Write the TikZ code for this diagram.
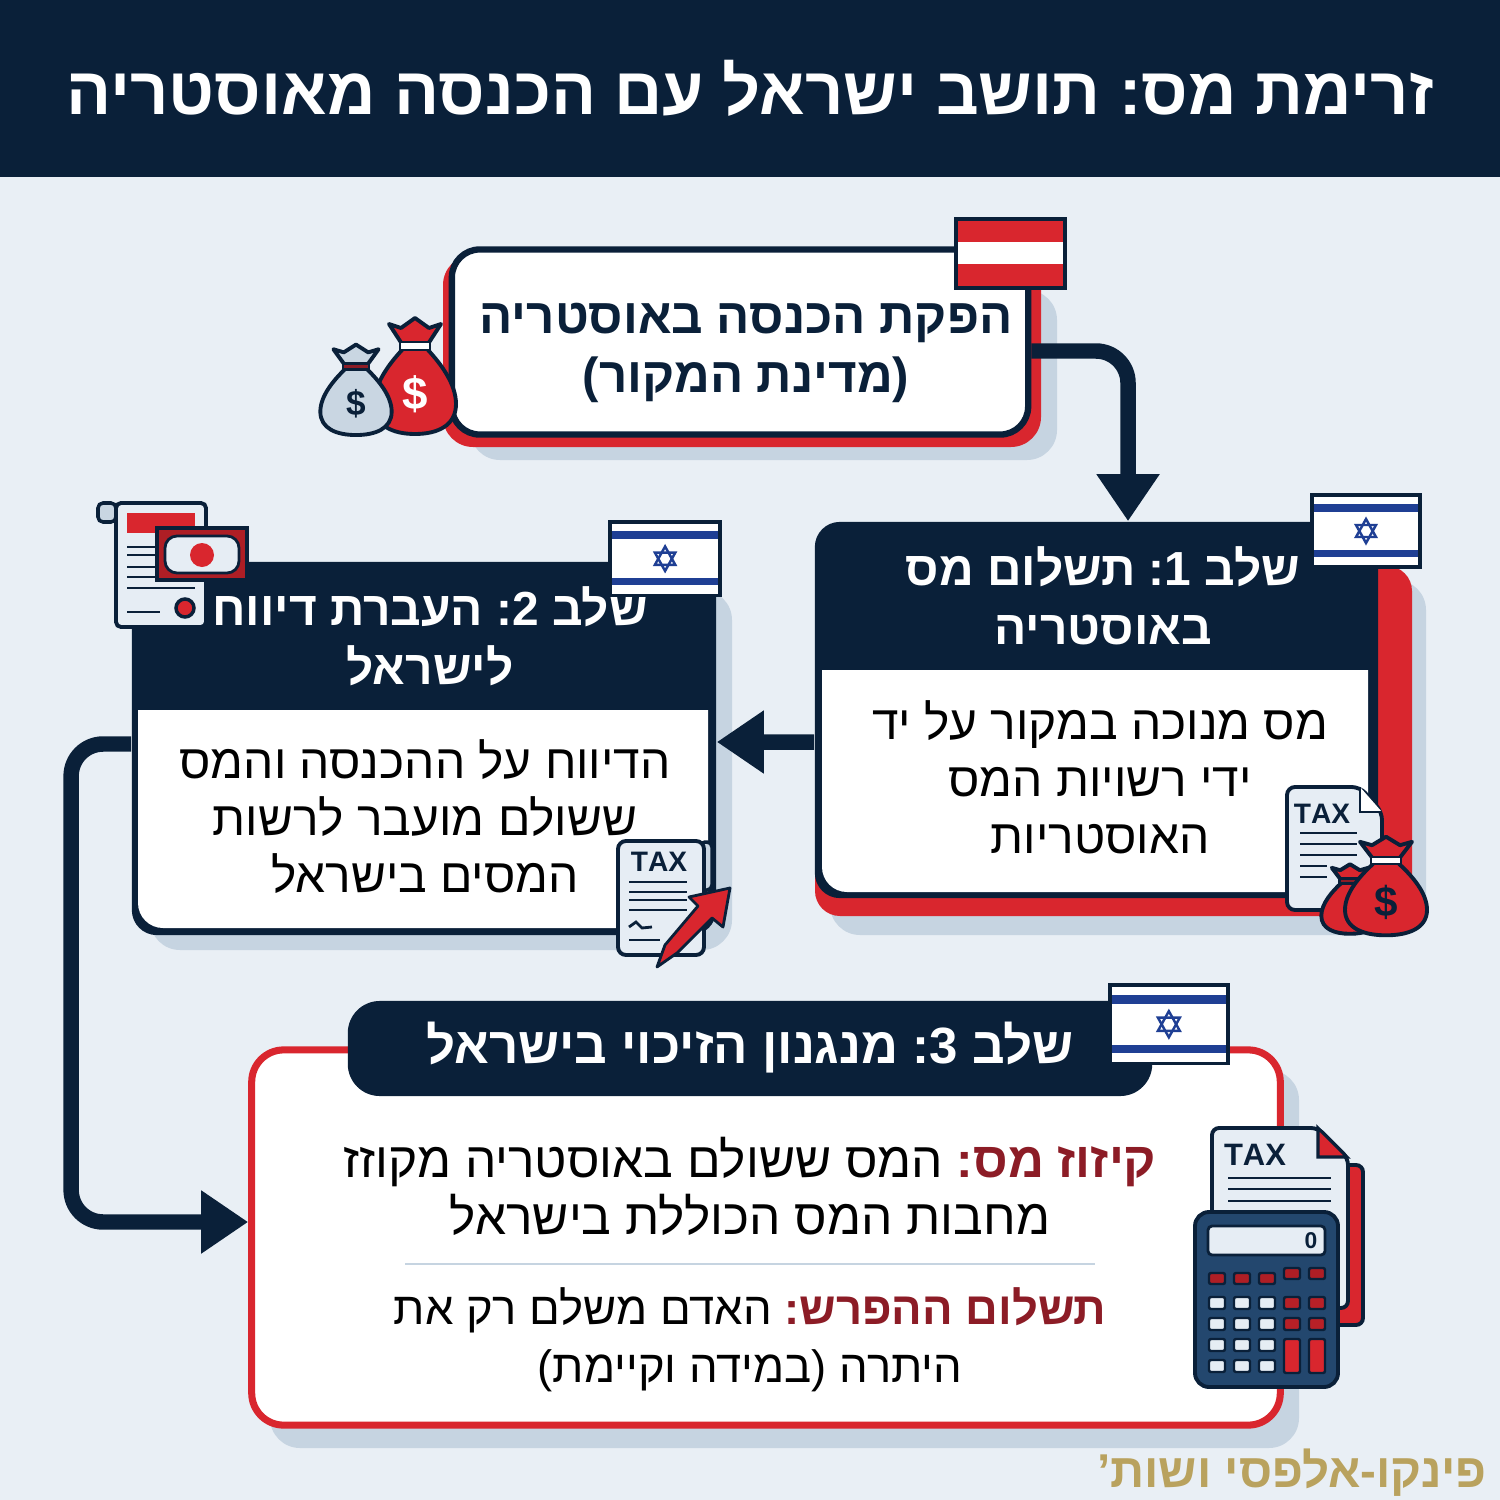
\documentclass[tikz,border=0pt]{standalone}
\usepackage{xcolor}
\usepackage{fontspec}
\usepackage{tikz}
\usetikzlibrary{arrows.meta}
\setmainfont[Script=Hebrew]{Liberation Sans}
\TeXXeTstate=1
\frenchspacing

\definecolor{navy}{HTML}{0A2039}
\definecolor{redbox}{HTML}{D9262E}
\definecolor{darkred}{HTML}{8C1C26}
\definecolor{pagebg}{HTML}{E9EFF5}
\definecolor{shadowc}{HTML}{C6D4E1}
\definecolor{flagblue}{HTML}{1F3F94}
\definecolor{gold}{HTML}{B9A25E}
\definecolor{paper}{HTML}{E6EDF4}
\definecolor{calcblue}{HTML}{23476E}
\definecolor{bagred}{HTML}{D9262E}
\definecolor{baggrey}{HTML}{C9D6E2}

\newcommand{\heb}[1]{\beginR #1\endR}

% flag of Israel, 108 x 72 before scaling
\newcommand{\ilflag}[3]{
	\begin{scope}[shift={(#1,#2)},scale=#3]
		\fill[white] (0,0) rectangle (108,72);
		\fill[flagblue] (2,9) rectangle (106,17);
		\fill[flagblue] (2,55) rectangle (106,62);
		\draw[flagblue,line width=0.7pt] (54,24) -- (64,42) -- (44,42) -- cycle;
		\draw[flagblue,line width=0.7pt] (54,48) -- (64,30) -- (44,30) -- cycle;
		\draw[navy,line width=1.1pt] (0,0) rectangle (108,72);
	\end{scope}}

% money bag, top centre at (#1,#2)
\newcommand{\moneybag}[6]{
	\begin{scope}[shift={(#1,#2)},xscale=#3,yscale=#4]
		\draw[navy,line width=1.1pt,fill=#5,line join=round] (-26,8) -- (-14,12) -- (0,2) -- (14,12) -- (26,8) -- (13,28) -- (13,34)
			.. controls (26,48) and (41,68) .. (41,88) .. controls (41,110) and (22,118) .. (0,118)
			.. controls (-22,118) and (-41,110) .. (-41,88) .. controls (-41,68) and (-26,48) .. (-13,34) -- (-13,28) -- cycle;
		\draw[navy,line width=0.7pt,fill=#6] (-15,26) rectangle (15,34);
	\end{scope}}

\begin{document}
\begin{tikzpicture}[x=0.01cm,y=-0.01cm]
	\tikzset{align=center}
	
	\tikzset{bodytext/.style = {text=black,inner sep=0pt,font=\fontsize{13.6pt}{16.2pt}\selectfont}}
	
	\tikzset{headtext/.style = {text=white,inner sep=0pt,font=\bfseries\fontsize{13.6pt}{16.8pt}\selectfont}}
	
	\tikzset{navybox/.style = {shape=rectangle,fill=navy,rounded corners=0.25cm,inner sep=0pt}}
	
	\tikzset{flow/.style = {draw=navy,line width=4.4pt,rounded corners=0.32cm,-{Triangle[length=0.47cm,width=0.6cm]}}}
	
	\tikzset{docline/.style = {draw=navy,line width=0.8pt}}
	
	\tikzset{taxtext/.style = {text=navy,inner sep=0pt,font=\bfseries\fontsize{8pt}{8pt}\selectfont}}
	
	\tikzset{dollar/.style = {inner sep=0pt,font=\bfseries\fontsize{12pt}{12pt}\selectfont}}
	
	\useasboundingbox (0,0) rectangle (1500,1500);
	\fill[pagebg] (0,0) rectangle (1500,1500);
	\fill[navy] (0,0) rectangle (1500,177);
	
	% shadows and red backs
	\fill[shadowc,rounded corners=0.3cm] (470,290) rectangle (1057,460);
	\fill[redbox,rounded corners=0.3cm] (443,255) rectangle (1041,447);
	\fill[shadowc,rounded corners=0.3cm] (830,580) rectangle (1426,935);
	\fill[redbox,rounded corners=0.25cm] (815,566) rectangle (1412,916);
	\fill[shadowc,rounded corners=0.3cm] (150,590) rectangle (732,950);
	\fill[shadowc,rounded corners=0.3cm] (270,1070) rectangle (1299,1448);
	
	% boxes
	\node[shape=rectangle,draw=navy,fill=white,line width=1.8pt,rounded corners=0.28cm,minimum width=5.76cm,minimum height=1.85cm] (src) at (740,342) {};
	
	\node[navybox,minimum width=5.63cm,minimum height=3.76cm] (step1) at (1096.5,710) {};
	
	\node[navybox,minimum width=5.84cm,minimum height=3.73cm] (step2) at (424,748.5) {};
	
	\node[shape=rectangle,draw=redbox,fill=white,line width=2pt,rounded corners=0.32cm,minimum width=10.28cm,minimum height=3.75cm] (step3) at (766,1237.5) {};
	
	\fill[white] (822,670) -- (1368,670) [rounded corners=0.25cm] -- (1368,892) -- (822,892) [sharp corners] -- cycle;
	\fill[white] (138,710) -- (708,710) [rounded corners=0.25cm] -- (708,928) -- (138,928) [sharp corners] -- cycle;
	
	\node[navybox,rounded corners=0.32cm,minimum width=8.04cm,minimum height=0.95cm] (head3) at (750,1048.5) {};
	
	% texts
	\node[text=white,inner sep=0pt,font=\bfseries\fontsize{19pt}{19pt}\selectfont] (title) at (750,88) {\heb{זרימת מס: תושב ישראל עם הכנסה מאוסטריה}};
	
	\node[text=navy,inner sep=0pt,font=\bfseries\fontsize{14pt}{17pt}\selectfont] (srctext) at (746,353) {\heb{הפקת הכנסה באוסטריה}\\\heb{(מדינת המקור)}};
	
	\node[headtext] (head1text) at (1103,596) {\heb{שלב 1: תשלום מס}\\\heb{באוסטריה}};
	\node[bodytext] (body1text) at (1100,777) {\heb{מס מנוכה במקור על יד}\\\heb{ידי רשויות המס}\\\heb{האוסטריות}};
	
	\node[headtext] (head2text) at (430,636) {\heb{שלב 2: העברת דיווח}\\\heb{לישראל}};
	\node[bodytext] (body2text) at (425,817) {\heb{הדיווח על ההכנסה והמס}\\\heb{ששולם מועבר לרשות}\\\heb{המסים בישראל}};
	
	\node[headtext,font=\bfseries\fontsize{14.5pt}{17pt}\selectfont] (head3text) at (750,1048) {\heb{שלב 3: מנגנון הזיכוי בישראל}};
	\node[bodytext,font=\fontsize{14.1pt}{16.2pt}\selectfont] (offset) at (750,1186) {\heb{המס ששולם באוסטריה מקוזז}\ {\bfseries\color{darkred}\heb{קיזוז מס:}}\\\heb{מחבות המס הכוללת בישראל}};
	\node[bodytext,font=\fontsize{12.9pt}{16.4pt}\selectfont] (diff) at (750,1340) {\heb{האדם משלם רק את}\ {\bfseries\color{darkred}\heb{תשלום ההפרש:}}\\\heb{היתרה (במידה וקיימת)}};
	\draw[shadowc,line width=0.7pt] (405,1264) -- (1095,1264);
	
	\node[text=gold,inner sep=0pt,font=\bfseries\fontsize{13.5pt}{14pt}\selectfont] (firm) at (1292,1473) {\heb{פינקו-אלפסי ושות'}};
	
	% edges
	\draw[flow] ([yshift=-0.09cm]src.east) -| ([xshift=0.315cm]step1.north);
	\draw[flow] ([yshift=-0.32cm]step1.west) -- ([yshift=0.065cm]step2.east);
	\draw[flow] ([yshift=0.045cm]step2.west) -- ++(-60,0) |- ([yshift=0.155cm]step3.west);
	
	% flags
	\draw[navy,line width=1.1pt,fill=redbox] (956,219) rectangle (1065,288);
	\fill[white] (958,242) rectangle (1063,264);
	\ilflag{1312}{495}{1}
	\ilflag{610}{522}{1.02}
	\ilflag{1110}{985}{1.09}
	
	% bags at the top box
	\moneybag{415}{316}{1}{1}{bagred}{white}
	\node[dollar,text=white,font=\bfseries\fontsize{13pt}{13pt}\selectfont] (dollarA) at (415,394) {\$};
	\moneybag{356}{343}{0.87}{0.78}{baggrey}{darkred}
	\node[dollar,text=navy,font=\bfseries\fontsize{10pt}{10pt}\selectfont] (dollarB) at (356,404) {\$};
	
	% tax paper of step 1
	\draw[navy,line width=1.1pt,fill=paper,rounded corners=0.08cm] (1287,787) -- (1360,787) -- (1382,812) -- (1382,910) -- (1287,910) -- cycle;
	\draw[navy,line width=0.8pt,fill=white] (1360,787) -- (1360,812) -- (1382,812);
	\node[taxtext] (tax1) at (1322,814) {TAX};
	\foreach \ly in {833,844,855} \draw[docline] (1300,\ly) -- (1357,\ly);
	\foreach \ly in {866,877} \draw[docline] (1300,\ly) -- (1327,\ly);
	\moneybag{1350}{863}{0.7}{0.6}{bagred}{darkred}
	\moneybag{1386}{835}{1}{0.85}{bagred}{white}
	\node[dollar,text=navy] (dollarC) at (1386,902) {\$};
	
	% scroll and bank note of step 2
	\draw[navy,line width=1pt,fill=baggrey,rounded corners=0.05cm] (98,522) -- (98,503) -- (116,503) -- (116,522) -- cycle;
	\draw[navy,line width=1.1pt,fill=paper,rounded corners=0.05cm] (116,627) -- (116,503) -- (206,503) -- (206,627) -- cycle;
	\fill[redbox] (127,513) rectangle (195,533);
	\foreach \ly in {547,555,567,577} \draw[docline] (127,\ly) -- (155,\ly);
	\draw[docline] (127,588) -- (195,588);
	\draw[docline] (127,612) -- (160,612);
	\draw[navy,line width=1pt,fill=redbox] (185,608) circle (9);
	\draw[navy,line width=1.1pt,fill=redbox!80!black] (157,528) rectangle (247,580);
	\draw[navy,line width=0.8pt,fill=paper,rounded corners=0.12cm] (165,536) rectangle (239,573);
	\fill[redbox] (202,555) circle (12);
	
	% tax scroll and pen of step 2
	\draw[navy,line width=1pt,fill=baggrey,rounded corners=0.05cm] (700,890) -- (700,842) -- (712,842) -- (712,890) -- cycle;
	\draw[navy,line width=1.1pt,fill=paper,rounded corners=0.08cm] (618,841) -- (704,841) -- (704,955) -- (618,955) -- cycle;
	\node[taxtext] (tax2) at (659,862) {TAX};
	\foreach \ly in {882,892,900,910} \draw[docline] (629,\ly) -- (687,\ly);
	\draw[docline] (629,927) -- (636,922) -- (642,928) -- (652,927);
	\draw[docline] (629,940) -- (660,940);
	\draw[navy,line width=0.8pt,fill=redbox,line join=round] (730,888) -- (689,897) -- (698,906) -- (665,945) -- (657,967) -- (677,953) -- (712,918) -- (723,927) -- cycle;
	
	% papers and calculator of step 3
	\draw[navy,line width=1.1pt,fill=redbox,rounded corners=0.07cm] (1250,1165) rectangle (1363,1325);
	\draw[navy,line width=1.1pt,fill=paper,rounded corners=0.07cm] (1212,1128) -- (1318,1128) -- (1348,1158) -- (1348,1308) -- (1212,1308) -- cycle;
	\draw[navy,line width=0.9pt,fill=redbox] (1318,1128) -- (1318,1157) -- (1347,1157) -- cycle;
	\node[taxtext,font=\bfseries\fontsize{8.8pt}{9pt}\selectfont] (tax3) at (1255,1155) {TAX};
	\foreach \ly in {1178,1189,1201} \draw[docline] (1228,\ly) -- (1331,\ly);
	\draw[navy,line width=1.1pt,fill=calcblue,rounded corners=0.14cm] (1195,1212) rectangle (1338,1387);
	\draw[navy,line width=0.8pt,fill=paper,rounded corners=0.04cm] (1208,1226) rectangle (1325,1255);
	\node[text=navy,inner sep=0pt,font=\bfseries\fontsize{6.5pt}{7pt}\selectfont] (readout) at (1311,1241) {0};
	\foreach \bx in {1217,1242,1267} \draw[navy,line width=0.7pt,fill=redbox!80!black,rounded corners=0.02cm] (\bx-8,1273) rectangle (\bx+8,1284);
	\foreach \bx in {1292,1317} \draw[navy,line width=0.7pt,fill=redbox!80!black,rounded corners=0.02cm] (\bx-8,1268) rectangle (\bx+8,1279);
	\foreach \bx in {1217,1242,1267}
		\foreach \by in {1303,1324,1345,1366} \draw[navy,line width=0.7pt,fill=paper,rounded corners=0.02cm] (\bx-8,\by-6) rectangle (\bx+8,\by+6);
	\foreach \bx in {1292,1317} {
		\foreach \by in {1303,1324} \draw[navy,line width=0.7pt,fill=redbox!85!black,rounded corners=0.02cm] (\bx-8,\by-6) rectangle (\bx+8,\by+6);
		\draw[navy,line width=0.7pt,fill=redbox,rounded corners=0.02cm] (\bx-8,1339) rectangle (\bx+8,1373);}
\end{tikzpicture}
\end{document}
